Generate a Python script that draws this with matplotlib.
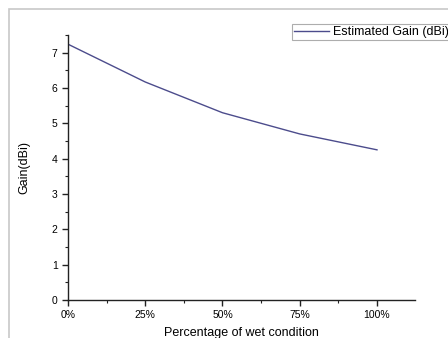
import matplotlib
matplotlib.use('Agg')
import matplotlib.pyplot as plt
from matplotlib.patches import Rectangle
from matplotlib.ticker import MultipleLocator

plt.rcParams['font.family'] = ['Liberation Sans', 'DejaVu Sans']

# data
wet_pct = [0, 25, 50, 75, 100]
gain_dbi = [7.24, 6.17, 5.30, 4.70, 4.25]
xtick_labels = ['0%', '25%', '50%', '75%', '100%']

fig = plt.figure(figsize=(4.48, 3.38), dpi=100)
fig.patch.set_facecolor('white')

# grey frame around the plot area (runs off right/bottom edges)
fig.patches.append(Rectangle((9 / 448, -0.05), 1.1, 1 - 9 / 338 + 0.05,
                             transform=fig.transFigure, fill=False,
                             edgecolor='#c8c8c8', linewidth=1.2))

ax = fig.add_axes([68 / 448, 1 - 300 / 338, (415 - 68) / 448, (300 - 35) / 338])
ax.plot(wet_pct, gain_dbi, color='#4c4c8c', linewidth=1.0, label='Estimated Gain (dBi)')

ax.set_xlim(0, 112.3)
ax.set_ylim(0, 7.5)
ax.set_xticks(wet_pct)
ax.set_xticklabels(xtick_labels)
ax.xaxis.set_minor_locator(MultipleLocator(12.5))
ax.yaxis.set_major_locator(MultipleLocator(1))
ax.yaxis.set_minor_locator(MultipleLocator(0.5))

for s in ['top', 'right']:
    ax.spines[s].set_visible(False)
for s in ['left', 'bottom']:
    ax.spines[s].set_linewidth(1.0)
    ax.spines[s].set_color('#222222')

ax.tick_params(which='major', direction='out', length=4, width=1, labelsize=7.5, color='#222222')
ax.tick_params(which='minor', direction='out', length=2.5, width=0.8, color='#222222')

ax.set_xlabel('Percentage of wet condition', fontsize=9, labelpad=5)
ax.set_ylabel('Gain(dBi)', fontsize=9, labelpad=15)

leg = fig.legend(loc='upper left', bbox_to_anchor=(292 / 448, 1 - 24 / 338),
                 bbox_transform=fig.transFigure, fontsize=9, frameon=True,
                 fancybox=False, handlelength=2.8, borderpad=0.15,
                 handletextpad=0.3, borderaxespad=0)
leg.get_frame().set_edgecolor('#999999')
leg.get_frame().set_linewidth(0.8)

fig.savefig('out.png', dpi=100)
